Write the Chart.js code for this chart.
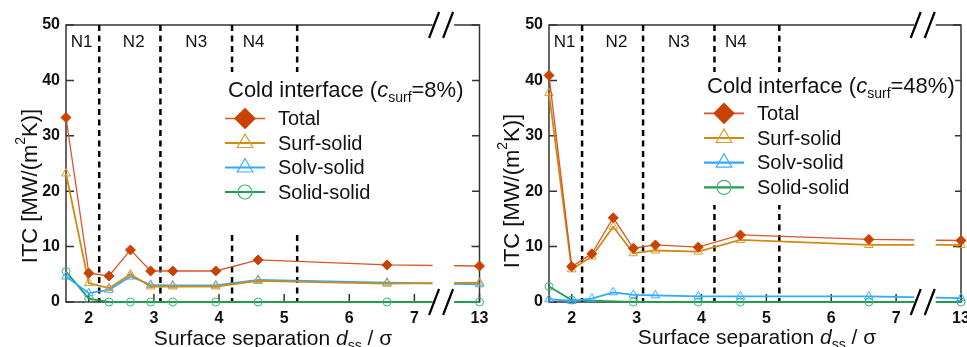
<!DOCTYPE html>
<html>
<head>
<meta charset="utf-8">
<script src="https://cdn.jsdelivr.net/npm/chart.js@4.4.1/dist/chart.umd.min.js"></script>
<style>
  html, body { margin: 0; padding: 0; background: #fff; }
  #wrap { position: relative; width: 967px; height: 347px; overflow: hidden; }
  canvas { position: absolute; top: 0; }
</style>
</head>
<body>
<div id="wrap">
  <canvas id="cold8" width="492" height="347" style="left:0"></canvas>
  <canvas id="cold48" width="484" height="347" style="left:483px"></canvas>
</div>
<script>
// surface separation d_ss / sigma (13 sits beyond the axis break)
const SEP = [1.65, 2.0, 2.31, 2.64, 2.95, 3.29, 3.95, 4.6, 6.58, 13];

// c_surf = 8 %
const TOTAL_8 = [33.3, 5.2, 4.7, 9.4, 5.6, 5.6, 5.6, 7.6, 6.7, 6.5];
const SURF_8  = [23.2, 3.4, 2.5, 5.0, 2.8, 2.8, 2.8, 3.8, 3.3, 3.5];
const SOLV_8  = [4.6, 1.6, 2.2, 4.6, 3.1, 3.0, 3.0, 4.0, 3.5, 3.2];
const SOLID_8 = [5.5, 0.6, 0, 0, 0, 0, 0, 0, 0, 0];

// c_surf = 48 %
const TOTAL_48 = [40.9, 6.4, 8.7, 15.2, 9.7, 10.3, 9.9, 12.1, 11.3, 11.1];
const SURF_48  = [37.7, 5.9, 8.2, 13.6, 8.8, 9.3, 9.1, 11.2, 10.3, 10.3];
const SOLV_48  = [0.5, 0.2, 0.6, 1.75, 1.3, 1.2, 1.0, 1.0, 1.0, 0.7];
const SOLID_48_SEP = [1.65, 2.0, 2.95, 3.95, 4.6, 6.58, 13];
const SOLID_48 = [2.8, 0.35, 0, 0, 0, 0, 0];

const X_TICKS = [2, 3, 4, 5, 6, 7, 13];
const Y_TICKS = [0, 10, 20, 30, 40, 50];

// layer regions N1..N4 and their boundaries
const REGION_NAMES = ['N1', 'N2', 'N3', 'N4'];
const REGION_LABEL_AT = [1.89, 2.69, 3.65, 4.53];
const REGION_EDGES = [2.16, 3.1, 4.2, 5.2];

const SERIES = ['Total', 'Surf-solid', 'Solv-solid', 'Solid-solid'];

// broken x axis: everything past the break is shifted left
const BREAK_SHIFT = 5;
const GAP = [7.28, 7.61];
const BREAK_MARK = 7.41;
const toAxis = d => d > 10 ? d - BREAK_SHIFT : d;
const fromAxis = v => v > 7.7 ? v + BREAK_SHIFT : v;

const FONT = '"Liberation Sans", Arial, sans-serif';
Chart.defaults.font.family = FONT;
Chart.defaults.color = '#111';

const STYLE = [
  { line: '#d9552b', width: 1.3, fill: '#c94200', stroke: '#c94200', point: 'rectRot', r: 5, lr: 10, bw: 1 },
  { line: '#d08c10', width: 1.8, fill: 'rgba(0,0,0,0)', stroke: '#d99a2a', point: 'triangle', r: 5, lr: 9, bw: 1 },
  { line: '#2eaaff', width: 1.8, fill: 'rgba(0,0,0,0)', stroke: '#3aafff', point: 'triangle', r: 5, lr: 9, bw: 1 },
  { line: '#1f9e50', width: 1.8, fill: 'rgba(0,0,0,0)', stroke: '#3cb46e', point: 'circle', r: 4, lr: 7, bw: 1 }
];

function pts(xs, ys) {
  return xs.map((d, i) => ({ x: toAxis(d), y: ys[i] }));
}

function drawParts(ctx, parts, x, y, align) {
  let w = 0;
  parts.forEach(p => { ctx.font = p.font; p.w = ctx.measureText(p.t).width; w += p.w; });
  let cx = align === 'center' ? x - w / 2 : x;
  parts.forEach(p => { ctx.font = p.font; ctx.fillText(p.t, cx, y + (p.dy || 0)); cx += p.w; });
}

const decor = {
  id: 'decor',
  beforeDatasetsDraw(chart, args, o) {
    const { ctx, chartArea: a, scales: { x, y } } = chart;
    ctx.save();
    ctx.strokeStyle = '#333';
    ctx.lineWidth = 1.5;
    ctx.strokeRect(a.left, a.top, a.right - a.left, a.bottom - a.top);
    ctx.beginPath();
    Y_TICKS.forEach(v => {
      const py = y.getPixelForValue(v);
      ctx.moveTo(a.left, py); ctx.lineTo(a.left + 8, py);
      ctx.moveTo(a.right, py); ctx.lineTo(a.right - 8, py);
    });
    X_TICKS.forEach(d => {
      const px = x.getPixelForValue(toAxis(d));
      ctx.moveTo(px, a.bottom); ctx.lineTo(px, a.bottom - 8);
    });
    ctx.stroke();

    ctx.strokeStyle = '#000';
    ctx.lineWidth = 2.5;
    ctx.setLineDash([6, 4.5]);
    ctx.beginPath();
    REGION_EDGES.forEach(d => {
      const px = x.getPixelForValue(d);
      ctx.moveTo(px, a.top); ctx.lineTo(px, a.bottom);
    });
    ctx.stroke();
    ctx.setLineDash([]);

    ctx.fillStyle = '#111';
    ctx.font = '17px ' + FONT;
    ctx.textAlign = 'center';
    ctx.textBaseline = 'middle';
    REGION_NAMES.forEach((n, i) => ctx.fillText(n, x.getPixelForValue(REGION_LABEL_AT[i]), 42));
    ctx.restore();
  },
  afterDatasetsDraw(chart, args, o) {
    const { ctx, chartArea: a, scales: { x } } = chart;
    const L = o.legend;
    ctx.save();

    // axis break: blank strip through the plot, then the // marks
    const g0 = x.getPixelForValue(GAP[0]);
    const g1 = x.getPixelForValue(GAP[1]);
    ctx.fillStyle = '#fff';
    ctx.fillRect(g0, a.top - 3, g1 - g0, a.bottom - a.top + 6);
    const mx = x.getPixelForValue(BREAK_MARK);
    ctx.strokeStyle = '#000';
    ctx.lineWidth = 2.2;
    ctx.beginPath();
    [a.top, a.bottom].forEach(yy => {
      [-7, 7].forEach(off => {
        ctx.moveTo(mx + off - 5, yy + 13);
        ctx.lineTo(mx + off + 5, yy - 13);
      });
    });
    ctx.stroke();

    // legend
    ctx.fillStyle = '#fff';
    ctx.fillRect(L.box[0], L.box[1], L.box[2] - L.box[0], L.box[3] - L.box[1]);
    ctx.fillStyle = '#111';
    ctx.textAlign = 'left';
    ctx.textBaseline = 'alphabetic';
    drawParts(ctx, [
      { t: 'Cold interface (', font: '22px ' + FONT },
      { t: 'c', font: 'italic 22px ' + FONT },
      { t: 'surf', font: '14px ' + FONT, dy: 5 },
      { t: '=' + o.conc + ')', font: '22px ' + FONT }
    ], L.x, L.titleY, 'left');
    SERIES.forEach((name, i) => {
      const s = STYLE[i];
      const ry = L.rowY + i * L.rowGap;
      ctx.strokeStyle = s.line;
      ctx.lineWidth = s.width + 0.4;
      ctx.beginPath();
      ctx.moveTo(L.x - 3, ry); ctx.lineTo(L.x + 37, ry);
      ctx.stroke();
      ctx.fillStyle = s.fill;
      ctx.strokeStyle = s.stroke;
      ctx.lineWidth = 1.2;
      Chart.helpers.drawPoint(ctx, { pointStyle: s.point, radius: s.lr, borderWidth: 1.2, rotation: 0 }, L.x + 17, ry);
      ctx.fillStyle = '#111';
      ctx.font = '20px ' + FONT;
      ctx.textBaseline = 'middle';
      ctx.fillText(name, L.x + 50, ry + 1);
      ctx.textBaseline = 'alphabetic';
    });

    // axis titles
    ctx.fillStyle = '#111';
    ctx.textBaseline = 'middle';
    ctx.save();
    ctx.translate(o.yTitle[0], o.yTitle[1]);
    ctx.rotate(-Math.PI / 2);
    drawParts(ctx, [
      { t: 'ITC [MW/(m', font: '22px ' + FONT },
      { t: '2', font: '14px ' + FONT, dy: -10 },
      { t: 'K)]', font: '22px ' + FONT }
    ], 0, 0, 'center');
    ctx.restore();
    ctx.textBaseline = 'alphabetic';
    drawParts(ctx, [
      { t: 'Surface separation ', font: '21px ' + FONT },
      { t: 'd', font: 'italic 21px ' + FONT },
      { t: 'ss', font: '14px ' + FONT, dy: 5 },
      { t: ' / \u03c3', font: '21px ' + FONT }
    ], o.xTitle[0], o.xTitle[1], 'center');
    ctx.restore();
  }
};

function makePanel(id, series, solidSep, padRight, deco) {
  const datasets = series.map((ys, i) => {
    const s = STYLE[i];
    return {
      label: SERIES[i],
      data: pts(i === 3 ? solidSep : SEP, ys),
      borderColor: s.line,
      borderWidth: s.width,
      pointStyle: s.point,
      pointRadius: s.r,
      pointBackgroundColor: s.fill,
      pointBorderColor: s.stroke,
      pointBorderWidth: s.bw,
      tension: 0,
      clip: false
    };
  });
  return new Chart(document.getElementById(id), {
    type: 'line',
    data: { datasets },
    plugins: [decor],
    options: {
      responsive: false,
      animation: false,
      events: [],
      layout: { padding: { top: 25, right: padRight, left: 0, bottom: 0 } },
      plugins: { legend: { display: false }, tooltip: { enabled: false }, decor: deco },
      scales: {
        x: {
          type: 'linear',
          min: 1.65,
          max: toAxis(13),
          grid: { display: false, drawTicks: false },
          border: { display: false },
          afterBuildTicks: sc => { sc.ticks = X_TICKS.map(d => ({ value: toAxis(d) })); },
          afterFit: sc => { sc.height = 45; sc.paddingLeft = 0; sc.paddingRight = 0; },
          ticks: {
            padding: 7,
            maxRotation: 0,
            autoSkip: false,
            font: { size: 16, weight: 'bold' },
            color: '#111',
            callback: v => String(fromAxis(v))
          }
        },
        y: {
          min: 0,
          max: 50,
          grid: { display: false, drawTicks: false },
          border: { display: false },
          afterFit: sc => { sc.width = 66; sc.paddingTop = 0; sc.paddingBottom = 0; },
          ticks: { stepSize: 10, padding: 6, font: { size: 16, weight: 'bold' }, color: '#111' }
        }
      }
    }
  });
}

makePanel('cold8', [TOTAL_8, SURF_8, SOLV_8, SOLID_8], SEP, 12.5, {
  conc: '8%',
  legend: { box: [226, 72, 472, 233], x: 228, titleY: 97, rowY: 118.5, rowGap: 24.5 },
  yTitle: [31, 186],
  xTitle: [273, 345]
});

makePanel('cold48', [TOTAL_48, SURF_48, SOLV_48, SOLID_48], SOLID_48_SEP, 2, {
  conc: '48%',
  legend: { box: [222, 72, 472, 205], x: 224, titleY: 93, rowY: 113.3, rowGap: 24.7 },
  yTitle: [30, 191],
  xTitle: [274, 344]
});
</script>
</body>
</html>
